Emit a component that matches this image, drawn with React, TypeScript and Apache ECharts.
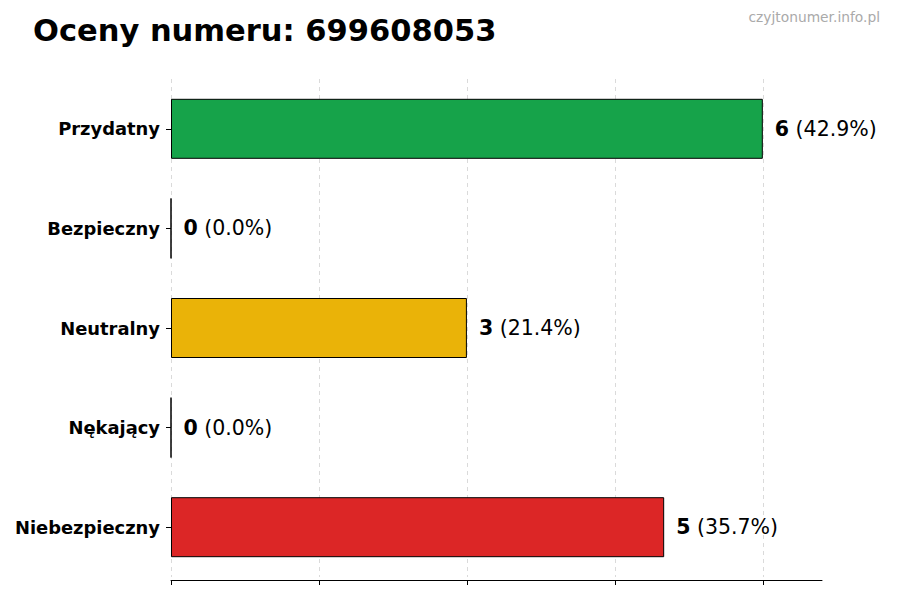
import React, { useEffect, useRef } from 'react';
import * as echarts from 'echarts';

// dane
const categories = ['Przydatny', 'Bezpieczny', 'Neutralny', 'Nękający', 'Niebezpieczny'];
const counts = [6, 0, 3, 0, 5];
const percents = ['42.9', '0.0', '21.4', '0.0', '35.7'];
const barColors = ['#16a34a', '#16a34a', '#eab308', '#eab308', '#dc2626'];
const gridTicks = [0, 1.5, 3, 4.5, 6];

const FONT = 'DejaVu Sans';

const App = () => {
  const chartRef = useRef(null);

  useEffect(() => {
    if (!chartRef.current) return;
    const chart = echarts.init(chartRef.current, null, { renderer: 'svg' });

    const options = {
      animation: false,
      backgroundColor: '#ffffff',
      textStyle: { fontFamily: FONT },
      title: {
        text: 'Oceny numeru: 699608053',
        left: 28,
        top: 10,
        textStyle: { fontFamily: FONT, fontSize: 30.5, fontWeight: 'bold', color: '#000' },
      },
      graphic: [
        {
          type: 'text',
          right: 20,
          top: 10,
          style: { text: 'czyjtonumer.info.pl', fontFamily: FONT, fontSize: 13.8, fill: '#aaaaaa' },
        },
      ],
      grid: { left: 171, right: 78, top: 79, bottom: 23, containLabel: false },
      xAxis: {
        type: 'value',
        min: 0,
        max: 6.6,
        interval: 1.5,
        offset: 3,
        axisLine: { show: true, lineStyle: { color: '#000', width: 1 } },
        axisTick: { show: true, length: 5, customValues: gridTicks, lineStyle: { color: '#000' } },
        axisLabel: { show: false },
        splitLine: { show: true, lineStyle: { type: [4, 4], color: '#d0d0d0', width: 0.8 } },
      },
      yAxis: {
        type: 'category',
        data: categories,
        inverse: true,
        axisLine: { show: false },
        axisTick: { show: true, length: 5, alignWithLabel: true, lineStyle: { color: '#000' } },
        axisLabel: { margin: 11, fontFamily: FONT, fontSize: 17.9, fontWeight: 'bold', color: '#000' },
        splitLine: { show: false },
      },
      series: [
        {
          type: 'bar',
          barWidth: 60,
          data: counts.map((v, i) => ({
            value: v,
            itemStyle: { color: barColors[i], borderColor: '#000', borderWidth: 1 },
          })),
          label: {
            show: true,
            position: 'right',
            distance: 12,
            formatter: (p: any) => `{v|${p.value}}{p| (${percents[p.dataIndex]}%)}`,
            rich: {
              v: { fontFamily: FONT, fontSize: 20.5, fontWeight: 'bold', color: '#000' },
              p: { fontFamily: FONT, fontSize: 20.5, color: '#000' },
            },
          },
        },
      ],
    };

    chart.setOption(options);

    return () => {
      chart.dispose();
    };
  }, []);

  return (
    <div
      ref={chartRef}
      style={{ position: 'fixed', top: 0, left: 0, width: 900, height: 600 }}
    />
  );
};

export default App;
